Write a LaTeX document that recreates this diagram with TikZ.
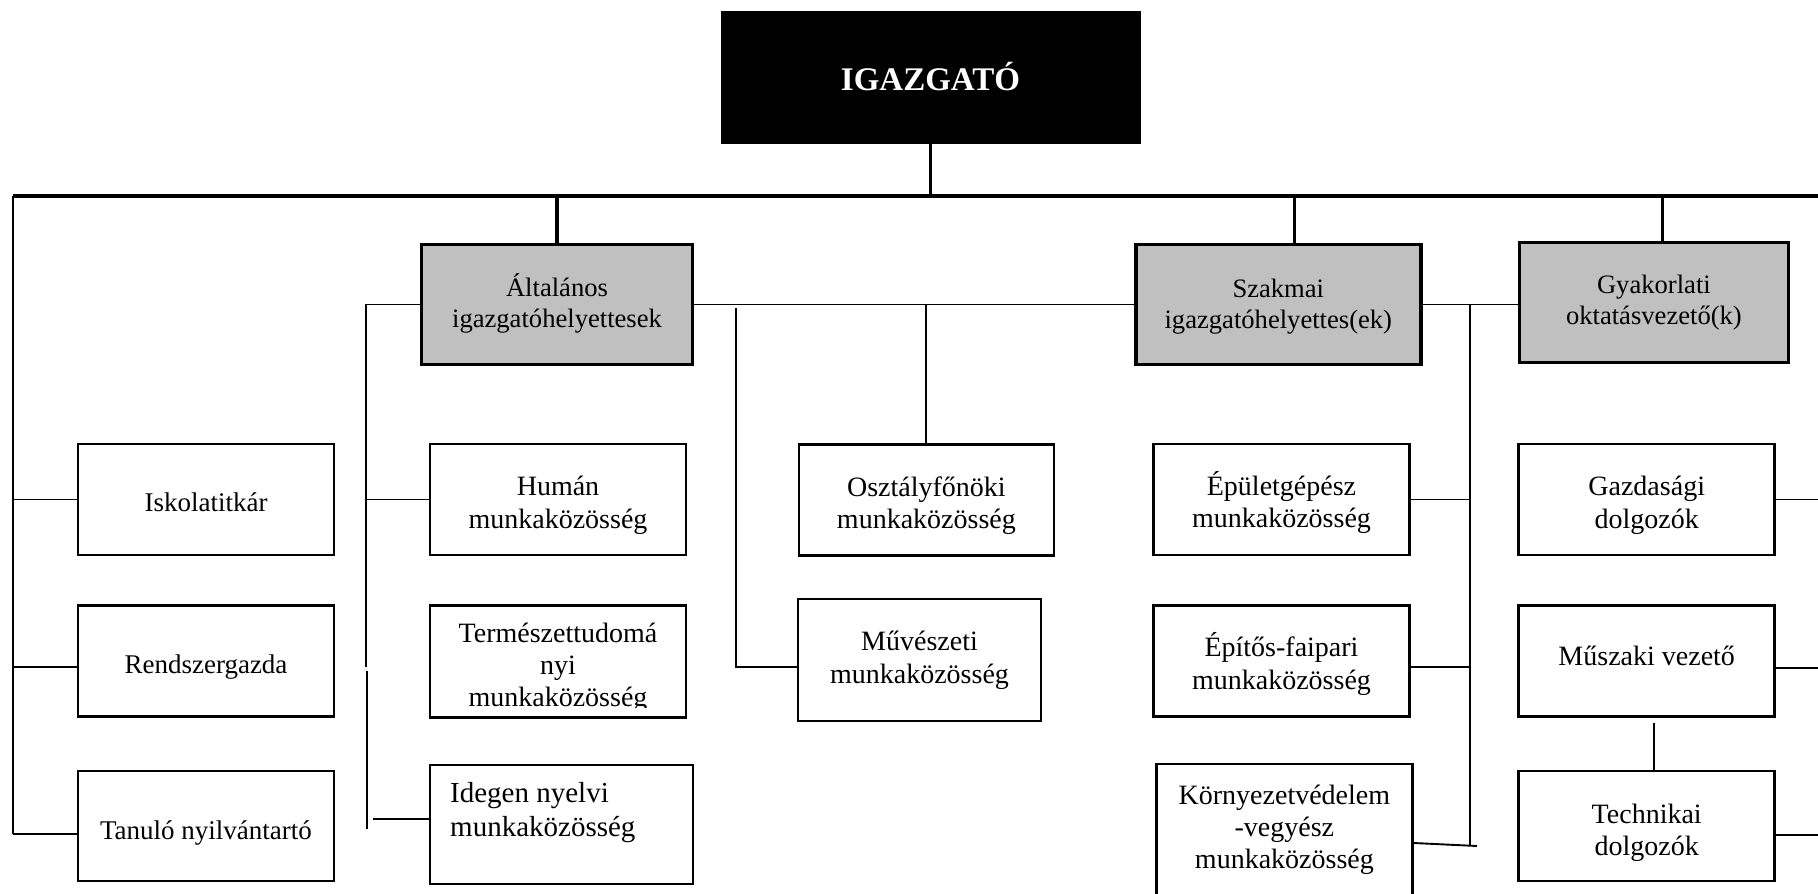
\documentclass[tikz,border=0pt]{standalone}
\usepackage{fontspec}
\setmainfont{Liberation Serif}
\usetikzlibrary{calc}
\definecolor{boxgray}{RGB}{192,192,192}
\tikzset{
  dirbox/.style={draw=black, fill=black, text=white, inner sep=0pt, font=\fontsize{33}{38}\selectfont\bfseries},
  gbox/.style={draw, line width=3.6pt, fill=boxgray, inner sep=0pt, align=center, font=\fontsize{26.6}{31}\selectfont},
  wbox/.style={draw, line width=2.6pt, fill=white, inner sep=0pt, align=center, font=\fontsize{28}{32.2}\selectfont},
  lbox/.style={wbox, font=\fontsize{27}{31}\selectfont},
  txt/.style={inner sep=0pt, align=center, font=\fontsize{28}{32.2}\selectfont},
  sd/.style 2 args={text height=#1, text depth=#2},
  conn/.style={line width=1.9pt},
  stem/.style={line width=3.2pt},
  bus/.style={line width=4pt},
}
\begin{document}
\begin{tikzpicture}[x=1pt,y=-1pt]
\useasboundingbox (0,0) rectangle (1818,894);
\clip (0,0) rectangle (1818,894);

% top
\node[dirbox, minimum width=419pt, minimum height=132pt] (dir) at (930.5,77) {IGAZGATÓ};

% deputies
\node[gbox, sd={60pt}{14.8pt}, minimum width=271pt, minimum height=120pt] (alt) at (557,304.5) {Általános\\igazgatóhelyettesek};
\node[gbox, sd={60pt}{12.8pt}, minimum width=285pt, minimum height=120pt] (szak) at (1278.3,304.5) {Szakmai\\igazgatóhelyettes(ek)};
\node[gbox, sd={60pt}{14.8pt}, minimum width=269pt, minimum height=120pt] (gyak) at (1653.9,302.3) {Gyakorlati\\oktatásvezető(k)};

% left column
\node[lbox, sd={30pt}{5.2pt}, minimum width=256pt, minimum height=111pt] (isk) at (206,499.5) {Iskolatitkár};
\node[lbox, sd={30pt}{5.2pt}, minimum width=256pt, minimum height=111pt] (rend) at (206,661) {Rendszergazda};
\node[lbox, sd={30pt}{3.2pt}, minimum width=256pt, minimum height=110pt] (tan) at (206,826) {Tanuló nyilvántartó};

% second column
\node[wbox, sd={60pt}{3pt}, minimum width=256pt, minimum height=111pt] (hum) at (558,499.5) {Humán\\munkaközösség};
\node[wbox, minimum width=256pt, minimum height=112pt] (term) at (558,661.3) {};
\begin{scope}
  \clip (431,606) rectangle (685,707.5);
  \node[txt] (termtxt) at (558,668) {Természettudomá\\nyi\\munkaközösség};
\end{scope}
\node[wbox, minimum width=263pt, minimum height=119pt] (ideg) at (561.5,824.5) {};
\node[txt, anchor=west, align=left, font=\fontsize{29}{33.4}\selectfont] (idegtxt) at (450,812.5) {Idegen nyelvi\\munkaközösség};

% third column
\node[wbox, sd={60pt}{3pt}, minimum width=255pt, minimum height=111pt] (osz) at (926.4,499.7) {Osztályfőnöki\\munkaközösség};
\node[wbox, sd={60pt}{14pt}, minimum width=243pt, minimum height=122pt] (muv) at (919.5,660) {Művészeti\\munkaközösség};

% fourth column
\node[wbox, sd={60pt}{4pt}, minimum width=256pt, minimum height=111pt] (epu) at (1281.5,499.5) {Épületgépész\\munkaközösség};
\node[wbox, sd={60pt}{4pt}, minimum width=256pt, minimum height=111pt] (epi) at (1281.5,661) {Építős-faipari\\munkaközösség};
\node[wbox, minimum width=256pt, minimum height=132pt] (kor) at (1284.4,830) {Környezetvédelem\\-vegyész\\munkaközösség};

% fifth column
\node[wbox, sd={60pt}{3pt}, minimum width=256pt, minimum height=111pt] (gaz) at (1646.7,499.5) {Gazdasági\\dolgozók};
\node[wbox, sd={30pt}{21.2pt}, minimum width=256pt, minimum height=111pt] (musz) at (1646.7,661) {Műszaki vezető};
\node[wbox, sd={60pt}{1pt}, minimum width=256pt, minimum height=110pt] (tech) at (1646.7,826) {Technikai\\dolgozók};

% main bus
\coordinate (busL) at (13,196);
\coordinate (busR) at (1818,196);
\draw[bus] (busL) -- (busR);
\draw[line width=3.5pt] (dir.south) -- (dir.south |- busL);
\draw[stem] (alt.north) -- (alt.north |- busL);
\draw[stem] ($(szak.north)+(16.2,0)$) -- ($(szak.north |- busL)+(16.2,0)$);
\draw[stem] ($(gyak.north)+(8.7,0)$) -- ($(gyak.north |- busL)+(8.7,0)$);

% left bus
\coordinate (L2) at (13,667);
\coordinate (L3) at (13,834);
\draw[conn] (busL) -- (L3);
\draw[conn] (isk.west -| busL) -- (isk.west);
\draw[conn] (L2) -- (L2 -| rend.west);
\draw[conn] (L3) -- (L3 -| tan.west);

% left of Általános
\coordinate (A1) at (366,304.5);
\coordinate (A2) at (366,667);
\coordinate (A3) at (367,671);
\coordinate (A4) at (367,829);
\coordinate (A5) at (373,818.7);
\draw[conn] (alt.west) -- (alt.west -| A1) -- (A2);
\draw[conn] (hum.west -| A1) -- (hum.west);
\draw[conn] (A3) -- (A4);
\draw[conn] (A5) -- (A5 -| ideg.west);

% right of Általános
\coordinate (B1) at (736,308);
\coordinate (B2) at (736,667);
\draw[conn] (alt.east) -- (szak.west);
\draw[conn] (B1) -- (B2) -- (B2 -| muv.west);
\draw[conn] (osz.north |- alt.east) -- (osz.north);

% right of Szakmai
\coordinate (C1) at (1469.6,304.5);
\coordinate (C2) at (1469.6,845);
\coordinate (C3) at (1469.6,667);
\coordinate (C4) at (1477,846);
\draw[conn] (szak.east) -- (szak.east -| gyak.west);
\draw[conn] (C1) -- (C2);
\draw[conn] (epu.east) -- (epu.east -| C1);
\draw[conn] (C3 -| epi.east) -- (C3);
\draw[conn] ([yshift=-13pt]kor.east) -- (C4);

% right column
\coordinate (R1) at (1818,499.5);
\coordinate (R2) at (1818,667.7);
\coordinate (R3) at (1818,834.7);
\draw[conn] (gaz.east) -- (R1);
\draw[conn] (R2 -| musz.east) -- (R2);
\draw[conn] (R3 -| tech.east) -- (R3);
\draw[conn] ($(tech.north)+(7.3,0)$) -- ($(musz.south)+(7.3,5)$);
\end{tikzpicture}
\end{document}
